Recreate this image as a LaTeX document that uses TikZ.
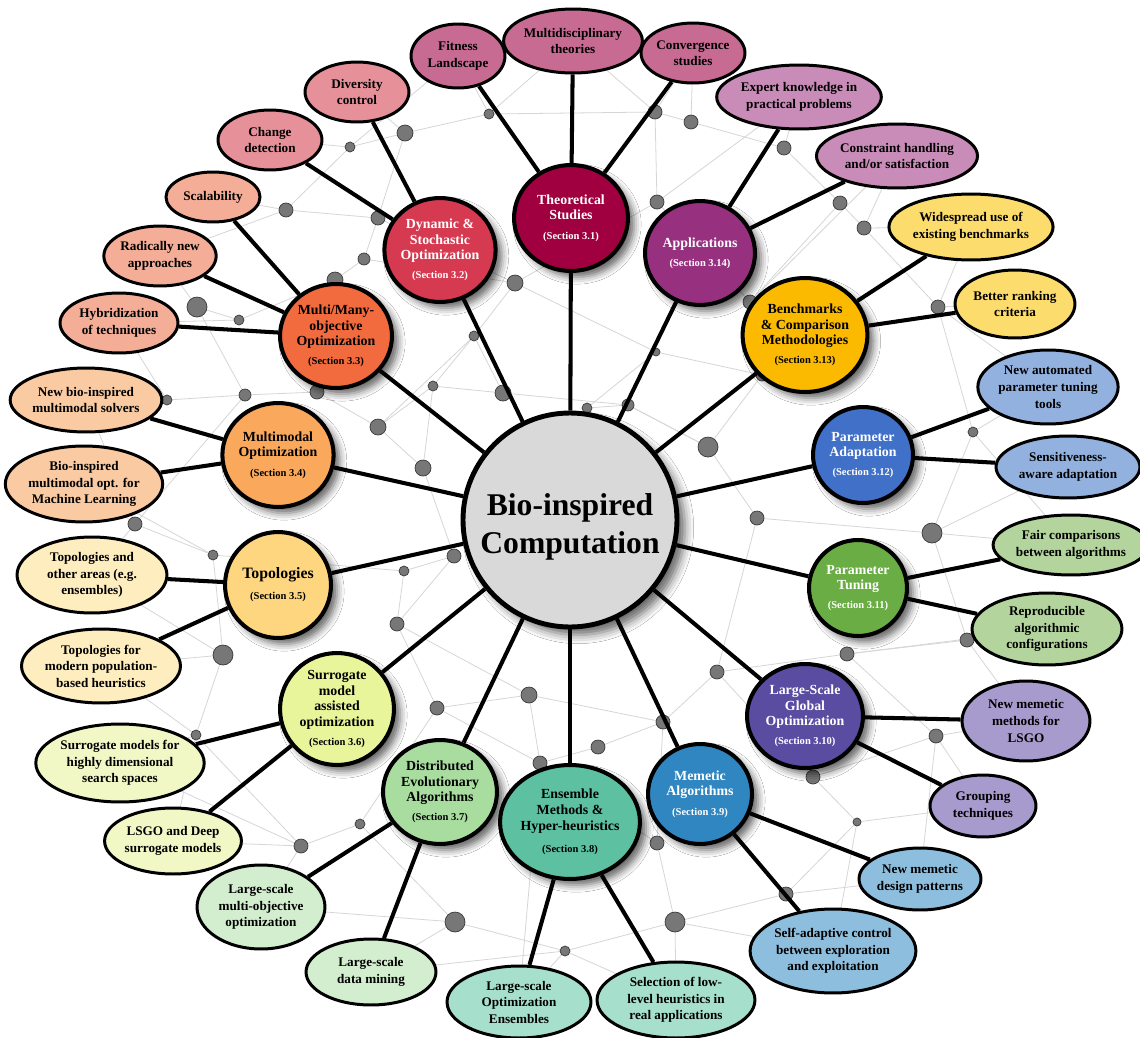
\documentclass[tikz,border=0pt]{standalone}
\usepackage{fontspec}
\setmainfont{Liberation Serif}
\usetikzlibrary{shapes.geometric,shadows.blur}
\newcommand\hubfnt{\fontsize{7.9}{8.9}\selectfont\bfseries}
\newcommand\leaffnt{\fontsize{7.5}{9.4}\selectfont\bfseries}
\newcommand\secfnt{\fontsize{6}{7}\selectfont\bfseries}
\newcommand\ttlfnt{\fontsize{18}{21.5}\selectfont\bfseries}
% hub colours
\definecolor{hT}{HTML}{A00040}\definecolor{hD}{HTML}{D63A50}\definecolor{hA}{HTML}{97307F}
\definecolor{hM}{HTML}{F26B3F}\definecolor{hMM}{HTML}{F9A85C}\definecolor{hTP}{HTML}{FDD67F}
\definecolor{hS}{HTML}{E8F59A}\definecolor{hDE}{HTML}{A9DDA0}\definecolor{hE}{HTML}{5DC0A0}
\definecolor{hME}{HTML}{2F86C0}\definecolor{hL}{HTML}{5A4CA0}\definecolor{hPT}{HTML}{6AAD44}
\definecolor{hPA}{HTML}{4070C8}\definecolor{hB}{HTML}{FBBA00}
% leaf colours
\definecolor{lT}{HTML}{C76B93}\definecolor{lD}{HTML}{E6909A}\definecolor{lA}{HTML}{C98CB8}
\definecolor{lM}{HTML}{F4AE97}\definecolor{lMM}{HTML}{FACBA2}\definecolor{lTP}{HTML}{FEEDBE}
\definecolor{lS}{HTML}{F1F8C6}\definecolor{lDE}{HTML}{D3EDCF}\definecolor{lE}{HTML}{A6DFCC}
\definecolor{lME}{HTML}{8EBEDE}\definecolor{lL}{HTML}{A79ACD}\definecolor{lPT}{HTML}{B3D59D}
\definecolor{lPA}{HTML}{93B1DE}\definecolor{lB}{HTML}{FDDC6E}
\definecolor{webgray}{HTML}{D6D6D6}\definecolor{dotgray}{HTML}{777777}\definecolor{dotedge}{HTML}{3A3A3A}
\definecolor{centergray}{HTML}{D9D9D9}
\pgfdeclarelayer{web}\pgfdeclarelayer{dots}\pgfdeclarelayer{links}
\pgfsetlayers{web,dots,links,main}
\tikzset{
 sz/.style 2 args={minimum width=#1*0.04cm, minimum height=#2*0.04cm},
 hub/.style={ellipse, draw=black, line width=2.3pt, inner sep=0pt, align=center, font=\hubfnt,
   blur shadow={shadow xshift=3.5pt, shadow yshift=-3.5pt, shadow blur radius=4pt, shadow opacity=60}},
 leaf/.style={ellipse, draw=black, line width=1.7pt, inner sep=0pt, align=center, font=\leaffnt},
 link/.style={line width=2.3pt, black},
 webl/.style={draw=webgray, line width=0.45pt},
 gdot/.style={circle, fill=dotgray, draw=dotedge, line width=0.4pt, inner sep=0pt, minimum size=#1*0.04cm},
}
\begin{document}
\begin{tikzpicture}[x=0.02cm, y=-0.02cm]
\useasboundingbox (0,0) rectangle (1140,1038);
% ---------- centre ----------
\node[circle, draw=black, line width=2.8pt, fill=centergray, minimum size=214*0.02cm, inner sep=0pt,
  align=center, font=\ttlfnt,
  blur shadow={shadow xshift=4.5pt, shadow yshift=-4.5pt, shadow blur radius=5pt, shadow opacity=60}]
  (C) at (570,520) {};
\node[align=center, font=\ttlfnt, inner sep=0pt] (CT) at (570,527) {Bio-inspired\\Computation};
% ---------- hubs ----------
\node[hub, sz={57}{53}, fill=hT, text=white] (H1) at (571,218) {Theoretical\\Studies\\[2pt]{\secfnt (Section 3.1)}};
\node[hub, sz={55}{52}, fill=hD, text=white] (H2) at (440,250) {Dynamic \&\\Stochastic\\Optimization\\[2pt]{\secfnt (Section 3.2)}};
\node[hub, sz={56}{52}, fill=hM] (H3) at (336,336) {Multi/Many-\\objective\\Optimization\\[2pt]{\secfnt (Section 3.3)}};
\node[hub, sz={55}{52}, fill=hMM] (H4) at (278,455) {Multimodal\\Optimization\\[2pt]{\secfnt (Section 3.4)}};
\node[hub, sz={53}{53}, fill=hTP] (H5) at (278,585) {{\fontsize{9}{10}\selectfont Topologies}\\[3pt]{\secfnt (Section 3.5)}};
\node[hub, sz={57}{56}, fill=hS] (H6) at (337,709) {Surrogate\\model\\assisted\\optimization\\[2pt]{\secfnt (Section 3.6)}};
\node[hub, sz={57}{52}, fill=hDE] (H7) at (440,792) {Distributed\\Evolutionary\\Algorithms\\[2pt]{\secfnt (Section 3.7)}};
\node[hub, sz={67}{57}, fill=hE] (H8) at (570,822) {Ensemble\\Methods \&\\Hyper-heuristics\\[4pt]{\secfnt (Section 3.8)}};
\node[hub, sz={52}{50}, fill=hME, text=white] (H9) at (700,794) {Memetic\\Algorithms\\[2pt]{\secfnt (Section 3.9)}};
\node[hub, sz={58}{52}, fill=hL, text=white] (H10) at (805,716) {Large-Scale\\Global\\Optimization\\[2pt]{\secfnt (Section 3.10)}};
\node[hub, sz={49}{48}, fill=hPT, text=white] (H11) at (858,588) {Parameter\\Tuning\\[2pt]{\secfnt (Section 3.11)}};
\node[hub, sz={50}{48}, fill=hPA, text=white] (H12) at (863,455) {Parameter\\Adaptation\\[2pt]{\secfnt (Section 3.12)}};
\node[hub, sz={57}{57}, fill=hB] (H13) at (805,335) {Benchmarks\\\& Comparison\\Methodologies\\[2pt]{\secfnt (Section 3.13)}};
\node[hub, sz={55}{52}, fill=hA, text=white] (H14) at (700,253) {Applications\\[2pt]{\secfnt (Section 3.14)}};
% ---------- leaves ----------
\node[leaf, sz={47}{32}, fill=lT] (T1) at (458,56) {Fitness\\Landscape};
\node[leaf, sz={62}{32}, fill=lT] (T2) at (573,41) {Multidisciplinary\\theories};
\node[leaf, sz={52}{30}, fill=lT] (T3) at (693,53) {Convergence\\studies};
\node[leaf, sz={52}{30}, fill=lD] (D1) at (357,92) {Diversity\\control};
\node[leaf, sz={52}{30}, fill=lD] (D2) at (270,140) {Change\\detection};
\node[leaf, sz={47}{25}, fill=lM] (M1) at (213,197) {Scalability};
\node[leaf, sz={53}{30}, fill=lM] (M2) at (160,256) {Radically new\\approaches};
\node[leaf, sz={59}{30}, fill=lM] (M3) at (119,323) {Hybridization\\of techniques};
\node[leaf, sz={68}{32}, fill=lMM] (MM1) at (86,400) {New bio-inspired\\multimodal solvers};
\node[leaf, sz={75}{38}, fill=lMM] (MM2) at (84,484) {Bio-inspired\\multimodal opt. for\\Machine Learning};
\node[leaf, sz={75}{38}, fill=lTP] (TP1) at (92,575) {Topologies and\\other areas (e.g.\\ensembles)};
\node[leaf, sz={74}{37}, fill=lTP] (TP2) at (101,666) {Topologies for\\modern population-\\based heuristics};
\node[leaf, sz={82}{39}, fill=lS] (S1) at (120,763) {Surrogate models for\\highly dimensional\\search spaces};
\node[leaf, sz={65}{33}, fill=lS] (S2) at (173,841) {LSGO and Deep\\surrogate models};
\node[leaf, sz={64}{42}, fill=lDE] (DE1) at (261,907) {Large-scale\\multi-objective\\optimization};
\node[leaf, sz={65}{33}, fill=lDE] (DE2) at (371,972) {Large-scale\\data mining};
\node[leaf, sz={72}{36}, fill=lE] (E1) at (519,1002) {Large-scale\\Optimization\\Ensembles};
\node[leaf, sz={79}{38}, fill=lE] (E2) at (676,1000) {Selection of low-\\level heuristics in\\real applications};
\node[leaf, sz={79}{42}, fill=lME] (ME1) at (833,951) {Self-adaptive control\\between exploration\\and exploitation};
\node[leaf, sz={61}{31}, fill=lME] (ME2) at (920,879) {New memetic\\design patterns};
\node[leaf, sz={64}{40}, fill=lL] (L1) at (1026,721) {New memetic\\methods for\\LSGO};
\node[leaf, sz={53}{31}, fill=lL] (L2) at (983,806) {Grouping\\techniques};
\node[leaf, sz={69}{30}, fill=lPT] (PT1) at (1071,545) {Fair comparisons\\between algorithms};
\node[leaf, sz={75}{36}, fill=lPT] (PT2) at (1047,629) {Reproducible\\algorithmic\\configurations};
\node[leaf, sz={66}{37}, fill=lPA] (PA1) at (1048,387) {New automated\\parameter tuning\\tools};
\node[leaf, sz={72}{31}, fill=lPA] (PA2) at (1068,467) {Sensitiveness-\\aware adaptation};
\node[leaf, sz={76}{33}, fill=lB] (B1) at (971,227) {Widespread use of\\existing benchmarks};
\node[leaf, sz={60}{34}, fill=lB] (B2) at (1015,304) {Better ranking\\criteria};
\node[leaf, sz={71}{32}, fill=lA] (A1) at (799,97) {Expert knowledge in\\practical problems};
\node[leaf, sz={71}{32}, fill=lA] (A2) at (897,156) {Constraint handling\\and/or satisfaction};
% ---------- dots ----------
\begin{pgfonlayer}{dots}
\foreach \n/\x/\y/\r in {d1/405/133/8, d2/350/147/5, d3/489/114/5, d4/378/218/7, d5/286/210/7,
 d6/364/259/6, d7/655/112/7, d8/691/122/7, d9/784/148/7, d10/657/202/7, d11/840/203/7, d12/864/228/7,
 d13/938/307/7, d14/515/283/8, d15/474/336/5, d16/656/352/4, d17/750/302/7, d18/335/280/8, d19/239/320/5,
 d20/245/395/6, d21/317/392/7, d22/433/386/5, d23/378/427/8, d24/423/468/8, d25/197/307/10, d26/167/400/5,
 d27/135/524/7, d28/213/555/5, d29/223/655/10, d30/762/375/6, d31/973/432/5, d32/932/533/10, d33/967/640/7,
 d34/708/447/10, d35/757/518/7, d36/628/405/6, d37/587/408/5, d38/404/571/5, d39/454/556/7, d40/397/624/7,
 d41/437/708/7, d42/196/735/5, d43/360/824/5, d44/301/846/7, d45/455/922/10, d46/540/763/7, d47/565/951/5,
 d48/598/747/7, d49/657/843/7, d50/717/672/7, d51/663/722/7, d52/847/654/7, d53/936/736/7, d54/813/777/7,
 d55/857/822/4, d56/786/894/7, d57/675/922/10, d58/503/393/8, d59/529/695/8}
  \node[gdot=\r] (\n) at (\x,\y) {};
\end{pgfonlayer}
% ---------- background web ----------
\begin{pgfonlayer}{web}
\fill[white] (0,0) rectangle (1140,1038);
\foreach \a/\b in {d2/d1, d1/D1.center, d1/d3, d3/T2.center, d2/d5, d5/M1.center, d5/d4, d4/d1, d4/d6,
 d6/d18, d18/d19, d19/M3.center, d19/d25, d25/M2.center, d25/d20, d20/d26, d26/MM1.center, d20/d21,
 d21/d23, d23/d22, d22/d15, d15/d14, d14/d4, d14/d10, d10/d7, d7/d8, d8/T3.center, d8/d9, d9/A1.center,
 d9/d11, d11/d12, d12/A2.center, d12/d13, d13/B2.center, d17/d10, d17/d30, d30/d16, d16/d14, d13/d31,
 d31/PA1.center, d31/d32, d32/PT1.center, d32/d35, d35/d34, d34/d30, d34/d36, d36/d37, d37/d16,
 d33/PT2.center, d33/d32, d33/d52, d52/d50, d50/d51, d51/d48, d48/d46, d46/d41, d41/d40, d40/d38,
 d38/d39, d39/d24, d24/d22, d38/d28, d28/d27, d27/MM2.center, d27/d20, d28/d29, d29/TP2.center,
 d29/d42, d42/S1.center, d42/d44, d44/d43, d43/d41, d44/DE1.center, d43/d45, d45/DE2.center, d45/d47,
 d47/d57, d57/d56, d56/ME2.center, d56/d55, d55/d54, d54/d53, d53/L1.center, d55/L2.center, d54/d50,
 d49/d51, d49/d57, d47/E1.center, d57/E2.center, d52/d53, d21/d18, d5/M2.center, d2/D2.center,
 T1.center/d3, T1.center/d2, T2.center/d7, T3.center/d7, A1.center/d10, A2.center/d17, B1.center/d13,
 B1.center/d12, M3.center/d26, MM1.center/d27, MM2.center/d28, TP1.center/d27, TP1.center/d29,
 TP2.center/d42, S1.center/d44, S2.center/d42, S2.center/d44, DE1.center/d45, DE2.center/d47,
 E1.center/d46, E2.center/d47, ME1.center/d57, ME1.center/d55, ME2.center/d53, L1.center/d33,
 L2.center/d53, PT2.center/d52, PT1.center/d31, PA2.center/d32, PA1.center/d13, d35/d50, d24/d23,
 d15/d23, d36/d34, d39/d40, d46/d49, d11/d17, d6/d14, d3/d7, d58/d22, d58/d36, d58/d15, d59/d40,
 d59/d51, d59/d46, d59/d41}
  \draw[webl] (\a) -- (\b);
\end{pgfonlayer}
% ---------- connectors ----------
\begin{pgfonlayer}{links}
\foreach \h in {H1,H2,H3,H4,H5,H6,H7,H8,H9,H10,H11,H12,H13,H14}
  \draw[link] (C) -- (\h);
\foreach \h/\l in {H1/T1, H1/T2, H1/T3, H2/D1, H2/D2, H3/M1, H3/M2, H3/M3, H4/MM1, H4/MM2,
 H5/TP1, H5/TP2, H6/S1, H6/S2, H7/DE1, H7/DE2, H8/E1, H8/E2, H9/ME1, H9/ME2, H10/L1, H10/L2,
 H11/PT1, H11/PT2, H12/PA1, H12/PA2, H13/B1, H13/B2, H14/A1, H14/A2}
  \draw[link] (\h) -- (\l);
\end{pgfonlayer}
\end{tikzpicture}
\end{document}
